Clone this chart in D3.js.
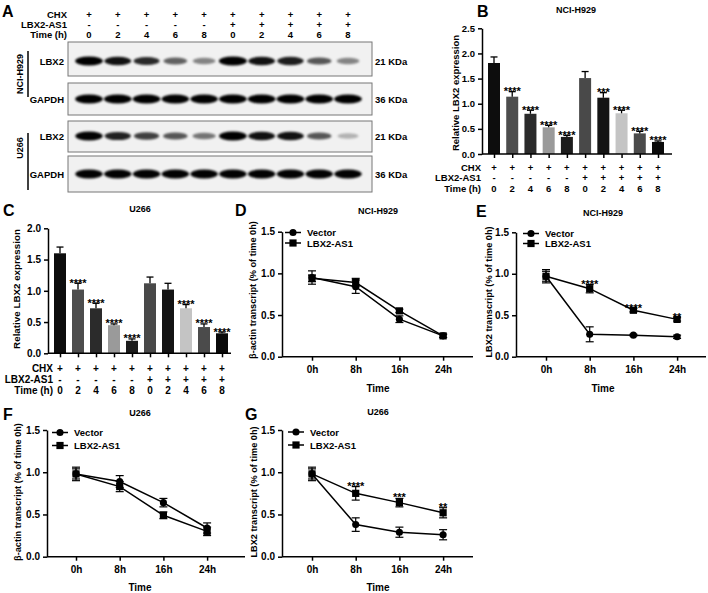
<!DOCTYPE html>
<html><head><meta charset="utf-8">
<script src="https://cdn.jsdelivr.net/npm/d3@7"></script>
<style>
body{margin:0;background:#fff}
svg{font-family:"Liberation Sans",Arial,sans-serif;font-weight:bold}
.domain,.tick line{stroke:#000;stroke-width:1.5px}
</style>
</head><body><svg id="c" width="708" height="593"></svg>
<script>
// ---------------- DATA ----------------
const chxRow   = ["+","+","+","+","+","+","+","+","+","+"];
const lbxRow   = ["-","-","-","-","-","+","+","+","+","+"];
const timeRow  = ["0","2","4","6","8","0","2","4","6","8"];

// western blot band intensities (0..1)
const h929Lbx2  = [0.95,0.85,0.75,0.50,0.35,1.00,0.85,0.80,0.55,0.35];
const h929Gapdh = [0.95,0.95,0.95,0.92,0.92,0.95,0.95,0.95,0.95,0.95];
const u266Lbx2  = [0.92,0.78,0.65,0.55,0.42,0.95,0.85,0.85,0.55,0.15];
const u266Gapdh = [0.92,0.92,0.92,0.92,0.92,0.92,0.92,0.92,0.92,0.92];

// B: NCI-H929 bar chart
const barB   = [1.81,1.14,0.80,0.53,0.34,1.51,1.12,0.81,0.41,0.24];
const errB   = [0.12,0.10,0.07,0.04,0.03,0.13,0.10,0.06,0.04,0.02];
const starsB = ["","****","****","****","****","","***","****","****","****"];
// C: U266 bar chart
const barC   = [1.60,1.02,0.72,0.45,0.20,1.12,1.02,0.72,0.42,0.32];
const errC   = [0.10,0.10,0.08,0.02,0.03,0.10,0.10,0.06,0.05,0.02];
const starsC = ["","****","****","****","****","","","****","****","****"];
const barColors = ["#0d0d0d","#4d4d4d","#2b2b2b","#9a9a9a","#1c1c1c","#494949","#141414","#c4c4c4","#4b4b4b","#0a0a0a"];

const timePoints = ["0h","8h","16h","24h"];
// D: NCI-H929 beta-actin
const dVec = [0.95,0.84,0.45,0.25], dVecErr = [0.08,0.08,0.04,0.02];
const dLbx = [0.94,0.89,0.55,0.25], dLbxErr = [0.04,0.05,0.02,0.02];
// E: NCI-H929 LBX2
const eVec = [0.97,0.27,0.26,0.24], eVecErr = [0.08,0.09,0.01,0.02];
const eLbx = [0.97,0.82,0.56,0.45], eLbxErr = [0.06,0.05,0.02,0.02];
const starsE = ["","****","****","**"];
// F: U266 beta-actin
const fVec = [0.98,0.89,0.64,0.34], fVecErr = [0.08,0.07,0.05,0.06];
const fLbx = [0.98,0.83,0.49,0.30], fLbxErr = [0.06,0.06,0.04,0.05];
// G: U266 LBX2
const gVec = [0.98,0.38,0.29,0.26], gVecErr = [0.08,0.08,0.06,0.06];
const gLbx = [0.98,0.75,0.64,0.52], gLbxErr = [0.06,0.08,0.05,0.06];
const starsG = ["","****","***","**"];

const barTicksB = [0,0.5,1.0,1.5,2.0,2.5];
const barTicksC = [0,0.5,1.0,1.5,2.0];
const lineTicks = [0,0.5,1.0,1.5];

// ---------------- DRAW ----------------
const svg = d3.select("#c");
const defs = svg.append("defs");
defs.append("filter").attr("id","blur").attr("x","-30%").attr("y","-100%").attr("width","160%").attr("height","300%")
  .append("feGaussianBlur").attr("stdDeviation","1.1");

function text(g, x, y, s, size, anchor, rot) {
  const t = g.append("text").attr("x", x).attr("y", y).text(s)
    .attr("font-size", size).attr("text-anchor", anchor || "start").attr("fill","#000");
  if (rot) t.attr("transform", `rotate(${rot},${x},${y})`);
  return t;
}

// ---- Panel letters ----
[["A",2,17],["B",477,17],["C",3,216],["D",235,216],["E",476,217],["F",3,420],["G",245,420]]
  .forEach(([l,x,y]) => text(svg, x, y, l, 16));

// ---- Panel A: western blot ----
(function(){
  const g = svg.append("g");
  const lane = d3.scalePoint().domain(d3.range(10)).range([89, 348]);
  const rows = [["CHX", chxRow, 17.5],["LBX2-AS1", lbxRow, 27.5],["Time (h)", timeRow, 37.5]];
  rows.forEach(([lab, arr, y]) => {
    text(g, 67, y, lab, 9.5, "end");
    arr.forEach((s,i) => text(g, lane(i), y, s, 9.5, "middle"));
  });
  const blots = [
    {label:"LBX2", kda:"21 KDa", top:42, bot:76, vals:h929Lbx2, cy:61},
    {label:"GAPDH", kda:"36 KDa", top:83, bot:115, vals:h929Gapdh, cy:99},
    {label:"LBX2", kda:"21 KDa", top:121, bot:152, vals:u266Lbx2, cy:136},
    {label:"GAPDH", kda:"36 KDa", top:156, bot:192, vals:u266Gapdh, cy:174}];
  blots.forEach(b => {
    g.append("rect").attr("x",68).attr("y",b.top).attr("width",304).attr("height",b.bot-b.top)
      .attr("fill","#f1f1f1").attr("stroke","#777").attr("stroke-width",1);
    g.append("g").attr("filter","url(#blur)").selectAll("ellipse").data(b.vals).join("ellipse")
      .attr("cx",(d,i)=>lane(i)).attr("cy",b.cy)
      .attr("rx",d=>10+4*d).attr("ry",d=>2.4+2.2*d)
      .attr("fill","#000").attr("fill-opacity",d=>Math.min(1,0.12+0.95*d));
    text(g, 64, b.cy+3.5, b.label, 9.5, "end");
    text(g, 375, b.cy+3.5, b.kda, 9.5, "start");
  });
  g.append("line").attr("x1",28).attr("x2",28).attr("y1",51).attr("y2",97).attr("stroke","#000").attr("stroke-width",1.5);
  g.append("line").attr("x1",28).attr("x2",28).attr("y1",133).attr("y2",190).attr("stroke","#000").attr("stroke-width",1.5);
  text(g, 23, 74, "NCI-H929", 9, "middle", -90);
  text(g, 23, 148, "U266", 9, "middle", -90);
})();

// ---- Bar panels ----
function barPanel(o) {
  const g = svg.append("g");
  const x = d3.scalePoint().domain(d3.range(o.vals.length)).range([o.x0, o.x1]);
  const y = d3.scaleLinear().domain([0, o.ymax]).range([o.yb, o.yt]);
  g.selectAll("rect").data(o.vals).join("rect")
    .attr("x",(d,i)=>x(i)-o.bw/2).attr("y",d=>y(d)).attr("width",o.bw)
    .attr("height",d=>y(0)-y(d)).attr("fill",(d,i)=>barColors[i]);
  const eb = g.append("g").attr("stroke","#000").attr("stroke-width",1.3);
  o.vals.forEach((v,i) => {
    const t = y(v + o.err[i]);
    eb.append("line").attr("x1",x(i)).attr("x2",x(i)).attr("y1",y(v)).attr("y2",t);
    eb.append("line").attr("x1",x(i)-3.5).attr("x2",x(i)+3.5).attr("y1",t).attr("y2",t);
    if (o.stars[i]) text(g, x(i), t+3.5, o.stars[i], 11, "middle");
  });
  const ya = g.append("g").attr("transform",`translate(${o.ax},0)`)
    .call(d3.axisLeft(y).tickValues(o.ticks).tickFormat(d3.format(".1f")).tickSize(4).tickSizeOuter(0));
  ya.selectAll("text").attr("font-size",o.fs).attr("font-family",null).attr("font-weight","bold").attr("fill","#000");
  const xa = g.append("g").attr("transform",`translate(0,${o.yb})`)
    .call(d3.axisBottom(x).tickSize(4).tickSizeOuter(0).tickFormat(""));
  xa.select(".domain").attr("d",`M${o.ax},0H${o.xEnd}`);
  const rows = [["CHX", chxRow],["LBX2-AS1", lbxRow],["Time (h)", timeRow]];
  rows.forEach(([lab, arr], r) => {
    const yy = o.rows[r];
    text(g, o.labX, yy, lab, o.fs, "end");
    arr.forEach((s,i) => text(g, x(i), yy, s, o.fs, "middle"));
  });
  text(g, o.titleX, o.titleY, o.title, 9, "middle");
  text(g, o.ylabX, o.ylabY, "Relative LBX2 expression", o.yfs, "middle", -90);
}

barPanel({vals:barB, err:errB, stars:starsB, ticks:barTicksB, ymax:2.5,
  x0:494, x1:658, yb:154, yt:28.3, ax:482, xEnd:672, bw:12, fs:9.5, yfs:9.5,
  rows:[170.5,181,191.5], labX:481, title:"NCI-H929", titleX:576, titleY:13,
  ylabX:459, ylabY:93});

barPanel({vals:barC, err:errC, stars:starsC, ticks:barTicksC, ymax:2.0,
  x0:60, x1:222, yb:353.3, yt:228.3, ax:48, xEnd:231, bw:12, fs:10, yfs:9.8,
  rows:[371.5,382.5,393.5], labX:53, title:"U266", titleX:140, titleY:212,
  ylabX:20, ylabY:289});

// ---- Line panels ----
function linePanel(o) {
  const g = svg.append("g");
  const x = d3.scalePoint().domain(timePoints).range([o.x0, o.x0 + 3*o.step]);
  const y = d3.scaleLinear().domain([0,1.5]).range([o.yb, o.yt]);
  const ya = g.append("g").attr("transform",`translate(${o.ax},0)`)
    .call(d3.axisLeft(y).tickValues(lineTicks).tickFormat(d3.format(".1f")).tickSize(4).tickSizeOuter(0));
  ya.selectAll("text").attr("font-size",10).attr("font-family",null).attr("font-weight","bold").attr("fill","#000");
  const xa = g.append("g").attr("transform",`translate(0,${o.yb})`)
    .call(d3.axisBottom(x).tickSize(4).tickSizeOuter(0));
  xa.select(".domain").attr("d",`M${o.ax},0H${o.xEnd}`);
  xa.selectAll("text").attr("font-size",10).attr("font-family",null).attr("font-weight","bold").attr("fill","#000").attr("dy","0.95em");
  const line = d3.line().x((d,i)=>x(timePoints[i])).y(d=>y(d));
  const series = [{v:o.vec, e:o.vecErr, sym:"circle"},{v:o.lbx, e:o.lbxErr, sym:"square"}];
  series.forEach(s => {
    g.append("path").attr("d", line(s.v)).attr("fill","none").attr("stroke","#000").attr("stroke-width",1.5);
    s.v.forEach((v,i) => {
      const cx = x(timePoints[i]);
      const t = y(v + s.e[i]), b = y(v - s.e[i]);
      g.append("line").attr("x1",cx).attr("x2",cx).attr("y1",t).attr("y2",b).attr("stroke","#000").attr("stroke-width",1.2);
      [t,b].forEach(yy => g.append("line").attr("x1",cx-4).attr("x2",cx+4).attr("y1",yy).attr("y2",yy).attr("stroke","#000").attr("stroke-width",1.2));
    });
  });
  series.forEach(s => {
    const sym = d3.symbol().type(s.sym === "circle" ? d3.symbolCircle : d3.symbolSquare).size(s.sym === "circle" ? 40 : 52);
    g.selectAll(null).data(s.v).join("path").attr("d", sym)
      .attr("transform",(d,i)=>`translate(${x(timePoints[i])},${y(d)})`).attr("fill","#000");
  });
  if (o.stars) o.stars.forEach((st,i) => {
    if (st) text(g, x(timePoints[i]), y(o.lbx[i] + o.lbxErr[i]) + 3, st, 11, "middle");
  });
  // legend
  series.forEach((s,k) => {
    const ly = o.legY + k*o.legDy;
    g.append("line").attr("x1",o.legX).attr("x2",o.legX+16).attr("y1",ly).attr("y2",ly).attr("stroke","#000").attr("stroke-width",1.5);
    const sym = d3.symbol().type(s.sym === "circle" ? d3.symbolCircle : d3.symbolSquare).size(s.sym === "circle" ? 40 : 52);
    g.append("path").attr("d",sym).attr("transform",`translate(${o.legX+8},${ly})`).attr("fill","#000");
    text(g, o.legX+22, ly+3.5, k===0 ? "Vector" : "LBX2-AS1", 9.5, "start");
  });
  text(g, o.titleX, o.titleY, o.title, 9, "middle");
  text(g, o.titleX, o.timeY, "Time", 10, "middle");
  text(g, o.ylabX, o.ylabY, o.ylab, 9.2, "middle", -90);
}

linePanel({vec:dVec, vecErr:dVecErr, lbx:dLbx, lbxErr:dLbxErr, stars:null,
  ax:282, x0:312, step:43.7, xEnd:473, yb:356.7, yt:231.7,
  legX:285, legY:232.5, legDy:10.5, title:"NCI-H929", titleX:378, titleY:214, timeY:392,
  ylab:"β-actin transcript (% of time 0h)", ylabX:256, ylabY:290});

linePanel({vec:eVec, vecErr:eVecErr, lbx:eLbx, lbxErr:eLbxErr, stars:starsE,
  ax:516, x0:546, step:43.7, xEnd:706, yb:356.7, yt:232.3,
  legX:523, legY:233.5, legDy:10, title:"NCI-H929", titleX:603, titleY:216, timeY:392,
  ylab:"LBX2 transcript (% of time 0h)", ylabX:492, ylabY:292});

linePanel({vec:fVec, vecErr:fVecErr, lbx:fLbx, lbxErr:fLbxErr, stars:null,
  ax:47, x0:76, step:43.7, xEnd:245, yb:556.7, yt:430,
  legX:52, legY:432.5, legDy:13, title:"U266", titleX:140, titleY:416, timeY:591,
  ylab:"β-actin transcript (% of time 0h)", ylabX:21, ylabY:492});

linePanel({vec:gVec, vecErr:gVecErr, lbx:gLbx, lbxErr:gLbxErr, stars:starsG,
  ax:282, x0:312, step:43.7, xEnd:473, yb:556.7, yt:430,
  legX:288, legY:432, legDy:13, title:"U266", titleX:378, titleY:415, timeY:591,
  ylab:"LBX2 transcript (% of time 0h)", ylabX:257, ylabY:492});
</script></body></html>
